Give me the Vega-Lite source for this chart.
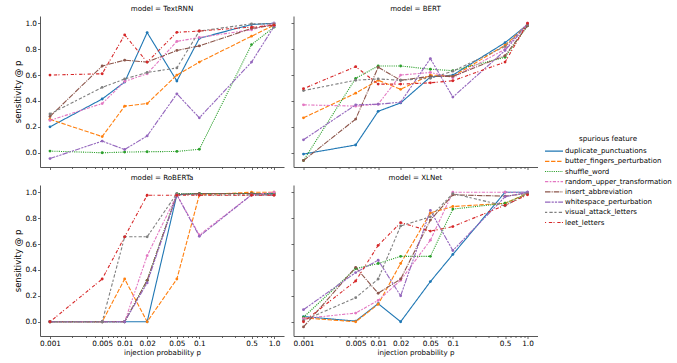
{
"$schema": "https://vega.github.io/schema/vega-lite/v6.json",
"padding": {"left": 13, "top": 5, "right": 0, "bottom": 2},
"config": {
  "font": "DejaVu Sans",
  "view": {"stroke": null},
  "title": {"fontSize": 7.1, "fontWeight": "normal", "offset": 3.5, "color": "#000", "font": "DejaVu Sans"},
  "axis": {"grid": false, "labelFontSize": 7.3, "titleFontSize": 7.1, "titleFontWeight": "normal", "labelColor": "#000", "titleColor": "#000", "domainColor": "#444", "tickColor": "#444", "domainWidth": 0.9, "tickWidth": 0.8, "tickSize": 2.5, "labelPadding": 1, "titlePadding": 2, "labelOverlap": false, "labelFont": "DejaVu Sans", "titleFont": "DejaVu Sans"},
  "axisY": {"titleFontSize": 8.5, "labelOverlap": false, "tickCount": 6},
  "legend": {"titleFontSize": 7.1, "titleFontWeight": "normal", "labelFontSize": 7, "titleColor": "#000", "labelColor": "#000", "rowPadding": 1.2, "titleAnchor": "middle", "titlePadding": 3, "labelFont": "DejaVu Sans", "titleFont": "DejaVu Sans"}
},
"data": {"values": [
{"model":"TextRNN","feature":"duplicate_punctuations","p":0.001,"s":0.2},{"model":"TextRNN","feature":"duplicate_punctuations","p":0.005,"s":0.415},{"model":"TextRNN","feature":"duplicate_punctuations","p":0.01,"s":0.546},{"model":"TextRNN","feature":"duplicate_punctuations","p":0.02,"s":0.928},{"model":"TextRNN","feature":"duplicate_punctuations","p":0.05,"s":0.554},{"model":"TextRNN","feature":"duplicate_punctuations","p":0.1,"s":0.884},{"model":"TextRNN","feature":"duplicate_punctuations","p":0.5,"s":0.99},{"model":"TextRNN","feature":"duplicate_punctuations","p":1.0,"s":1.0},
{"model":"TextRNN","feature":"butter_fingers_perturbation","p":0.001,"s":0.258},{"model":"TextRNN","feature":"butter_fingers_perturbation","p":0.005,"s":0.125},{"model":"TextRNN","feature":"butter_fingers_perturbation","p":0.01,"s":0.36},{"model":"TextRNN","feature":"butter_fingers_perturbation","p":0.02,"s":0.38},{"model":"TextRNN","feature":"butter_fingers_perturbation","p":0.05,"s":0.6},{"model":"TextRNN","feature":"butter_fingers_perturbation","p":0.1,"s":0.7},{"model":"TextRNN","feature":"butter_fingers_perturbation","p":0.5,"s":0.9},{"model":"TextRNN","feature":"butter_fingers_perturbation","p":1.0,"s":0.985},
{"model":"TextRNN","feature":"shuffle_word","p":0.001,"s":0.013},{"model":"TextRNN","feature":"shuffle_word","p":0.005,"s":0.0},{"model":"TextRNN","feature":"shuffle_word","p":0.01,"s":0.005},{"model":"TextRNN","feature":"shuffle_word","p":0.02,"s":0.008},{"model":"TextRNN","feature":"shuffle_word","p":0.05,"s":0.01},{"model":"TextRNN","feature":"shuffle_word","p":0.1,"s":0.027},{"model":"TextRNN","feature":"shuffle_word","p":0.5,"s":0.835},{"model":"TextRNN","feature":"shuffle_word","p":1.0,"s":0.97},
{"model":"TextRNN","feature":"random_upper_transformation","p":0.001,"s":0.25},{"model":"TextRNN","feature":"random_upper_transformation","p":0.005,"s":0.38},{"model":"TextRNN","feature":"random_upper_transformation","p":0.01,"s":0.55},{"model":"TextRNN","feature":"random_upper_transformation","p":0.02,"s":0.61},{"model":"TextRNN","feature":"random_upper_transformation","p":0.05,"s":0.86},{"model":"TextRNN","feature":"random_upper_transformation","p":0.1,"s":0.89},{"model":"TextRNN","feature":"random_upper_transformation","p":0.5,"s":0.95},{"model":"TextRNN","feature":"random_upper_transformation","p":1.0,"s":1.0},
{"model":"TextRNN","feature":"insert_abbreviation","p":0.001,"s":0.28},{"model":"TextRNN","feature":"insert_abbreviation","p":0.005,"s":0.67},{"model":"TextRNN","feature":"insert_abbreviation","p":0.01,"s":0.715},{"model":"TextRNN","feature":"insert_abbreviation","p":0.02,"s":0.7},{"model":"TextRNN","feature":"insert_abbreviation","p":0.05,"s":0.79},{"model":"TextRNN","feature":"insert_abbreviation","p":0.1,"s":0.825},{"model":"TextRNN","feature":"insert_abbreviation","p":0.5,"s":0.96},{"model":"TextRNN","feature":"insert_abbreviation","p":1.0,"s":0.985},
{"model":"TextRNN","feature":"whitespace_perturbation","p":0.001,"s":-0.045},{"model":"TextRNN","feature":"whitespace_perturbation","p":0.005,"s":0.09},{"model":"TextRNN","feature":"whitespace_perturbation","p":0.01,"s":0.025},{"model":"TextRNN","feature":"whitespace_perturbation","p":0.02,"s":0.13},{"model":"TextRNN","feature":"whitespace_perturbation","p":0.05,"s":0.455},{"model":"TextRNN","feature":"whitespace_perturbation","p":0.1,"s":0.27},{"model":"TextRNN","feature":"whitespace_perturbation","p":0.5,"s":0.7},{"model":"TextRNN","feature":"whitespace_perturbation","p":1.0,"s":0.975},
{"model":"TextRNN","feature":"visual_attack_letters","p":0.001,"s":0.3},{"model":"TextRNN","feature":"visual_attack_letters","p":0.005,"s":0.505},{"model":"TextRNN","feature":"visual_attack_letters","p":0.01,"s":0.57},{"model":"TextRNN","feature":"visual_attack_letters","p":0.02,"s":0.62},{"model":"TextRNN","feature":"visual_attack_letters","p":0.05,"s":0.655},{"model":"TextRNN","feature":"visual_attack_letters","p":0.1,"s":0.94},{"model":"TextRNN","feature":"visual_attack_letters","p":0.5,"s":0.995},{"model":"TextRNN","feature":"visual_attack_letters","p":1.0,"s":0.995},
{"model":"TextRNN","feature":"leet_letters","p":0.001,"s":0.6},{"model":"TextRNN","feature":"leet_letters","p":0.005,"s":0.61},{"model":"TextRNN","feature":"leet_letters","p":0.01,"s":0.91},{"model":"TextRNN","feature":"leet_letters","p":0.02,"s":0.7},{"model":"TextRNN","feature":"leet_letters","p":0.05,"s":0.93},{"model":"TextRNN","feature":"leet_letters","p":0.1,"s":0.94},{"model":"TextRNN","feature":"leet_letters","p":0.5,"s":0.97},{"model":"TextRNN","feature":"leet_letters","p":1.0,"s":0.985},

{"model":"BERT","feature":"duplicate_punctuations","p":0.001,"s":-0.01},{"model":"BERT","feature":"duplicate_punctuations","p":0.005,"s":0.06},{"model":"BERT","feature":"duplicate_punctuations","p":0.01,"s":0.32},{"model":"BERT","feature":"duplicate_punctuations","p":0.02,"s":0.385},{"model":"BERT","feature":"duplicate_punctuations","p":0.05,"s":0.585},{"model":"BERT","feature":"duplicate_punctuations","p":0.1,"s":0.6},{"model":"BERT","feature":"duplicate_punctuations","p":0.5,"s":0.85},{"model":"BERT","feature":"duplicate_punctuations","p":1.0,"s":0.99},
{"model":"BERT","feature":"butter_fingers_perturbation","p":0.001,"s":0.27},{"model":"BERT","feature":"butter_fingers_perturbation","p":0.005,"s":0.46},{"model":"BERT","feature":"butter_fingers_perturbation","p":0.01,"s":0.56},{"model":"BERT","feature":"butter_fingers_perturbation","p":0.02,"s":0.49},{"model":"BERT","feature":"butter_fingers_perturbation","p":0.05,"s":0.6},{"model":"BERT","feature":"butter_fingers_perturbation","p":0.1,"s":0.59},{"model":"BERT","feature":"butter_fingers_perturbation","p":0.5,"s":0.83},{"model":"BERT","feature":"butter_fingers_perturbation","p":1.0,"s":0.99},
{"model":"BERT","feature":"shuffle_word","p":0.001,"s":-0.06},{"model":"BERT","feature":"shuffle_word","p":0.005,"s":0.575},{"model":"BERT","feature":"shuffle_word","p":0.01,"s":0.67},{"model":"BERT","feature":"shuffle_word","p":0.02,"s":0.67},{"model":"BERT","feature":"shuffle_word","p":0.05,"s":0.645},{"model":"BERT","feature":"shuffle_word","p":0.1,"s":0.634},{"model":"BERT","feature":"shuffle_word","p":0.5,"s":0.737},{"model":"BERT","feature":"shuffle_word","p":1.0,"s":0.98},
{"model":"BERT","feature":"random_upper_transformation","p":0.001,"s":0.37},{"model":"BERT","feature":"random_upper_transformation","p":0.005,"s":0.36},{"model":"BERT","feature":"random_upper_transformation","p":0.01,"s":0.375},{"model":"BERT","feature":"random_upper_transformation","p":0.02,"s":0.6},{"model":"BERT","feature":"random_upper_transformation","p":0.05,"s":0.62},{"model":"BERT","feature":"random_upper_transformation","p":0.1,"s":0.58},{"model":"BERT","feature":"random_upper_transformation","p":0.5,"s":0.8},{"model":"BERT","feature":"random_upper_transformation","p":1.0,"s":1.0},
{"model":"BERT","feature":"insert_abbreviation","p":0.001,"s":-0.06},{"model":"BERT","feature":"insert_abbreviation","p":0.005,"s":0.26},{"model":"BERT","feature":"insert_abbreviation","p":0.01,"s":0.66},{"model":"BERT","feature":"insert_abbreviation","p":0.02,"s":0.56},{"model":"BERT","feature":"insert_abbreviation","p":0.05,"s":0.59},{"model":"BERT","feature":"insert_abbreviation","p":0.1,"s":0.59},{"model":"BERT","feature":"insert_abbreviation","p":0.5,"s":0.75},{"model":"BERT","feature":"insert_abbreviation","p":1.0,"s":0.98},
{"model":"BERT","feature":"whitespace_perturbation","p":0.001,"s":0.1},{"model":"BERT","feature":"whitespace_perturbation","p":0.005,"s":0.37},{"model":"BERT","feature":"whitespace_perturbation","p":0.01,"s":0.375},{"model":"BERT","feature":"whitespace_perturbation","p":0.02,"s":0.39},{"model":"BERT","feature":"whitespace_perturbation","p":0.05,"s":0.727},{"model":"BERT","feature":"whitespace_perturbation","p":0.1,"s":0.43},{"model":"BERT","feature":"whitespace_perturbation","p":0.5,"s":0.79},{"model":"BERT","feature":"whitespace_perturbation","p":1.0,"s":0.99},
{"model":"BERT","feature":"visual_attack_letters","p":0.001,"s":0.48},{"model":"BERT","feature":"visual_attack_letters","p":0.005,"s":0.56},{"model":"BERT","feature":"visual_attack_letters","p":0.01,"s":0.57},{"model":"BERT","feature":"visual_attack_letters","p":0.02,"s":0.56},{"model":"BERT","feature":"visual_attack_letters","p":0.05,"s":0.575},{"model":"BERT","feature":"visual_attack_letters","p":0.1,"s":0.63},{"model":"BERT","feature":"visual_attack_letters","p":0.5,"s":0.82},{"model":"BERT","feature":"visual_attack_letters","p":1.0,"s":0.99},
{"model":"BERT","feature":"leet_letters","p":0.001,"s":0.495},{"model":"BERT","feature":"leet_letters","p":0.005,"s":0.665},{"model":"BERT","feature":"leet_letters","p":0.01,"s":0.53},{"model":"BERT","feature":"leet_letters","p":0.02,"s":0.53},{"model":"BERT","feature":"leet_letters","p":0.05,"s":0.54},{"model":"BERT","feature":"leet_letters","p":0.1,"s":0.556},{"model":"BERT","feature":"leet_letters","p":0.5,"s":0.7},{"model":"BERT","feature":"leet_letters","p":1.0,"s":1.0},

{"model":"RoBERTa","feature":"duplicate_punctuations","p":0.001,"s":0},{"model":"RoBERTa","feature":"duplicate_punctuations","p":0.005,"s":0},{"model":"RoBERTa","feature":"duplicate_punctuations","p":0.01,"s":0},{"model":"RoBERTa","feature":"duplicate_punctuations","p":0.02,"s":0},{"model":"RoBERTa","feature":"duplicate_punctuations","p":0.05,"s":0.98},{"model":"RoBERTa","feature":"duplicate_punctuations","p":0.1,"s":0.99},{"model":"RoBERTa","feature":"duplicate_punctuations","p":0.5,"s":0.99},{"model":"RoBERTa","feature":"duplicate_punctuations","p":1.0,"s":0.99},
{"model":"RoBERTa","feature":"butter_fingers_perturbation","p":0.001,"s":0},{"model":"RoBERTa","feature":"butter_fingers_perturbation","p":0.005,"s":0},{"model":"RoBERTa","feature":"butter_fingers_perturbation","p":0.01,"s":0.33},{"model":"RoBERTa","feature":"butter_fingers_perturbation","p":0.02,"s":0},{"model":"RoBERTa","feature":"butter_fingers_perturbation","p":0.05,"s":0.33},{"model":"RoBERTa","feature":"butter_fingers_perturbation","p":0.1,"s":0.98},{"model":"RoBERTa","feature":"butter_fingers_perturbation","p":0.5,"s":1.0},{"model":"RoBERTa","feature":"butter_fingers_perturbation","p":1.0,"s":1.0},
{"model":"RoBERTa","feature":"shuffle_word","p":0.001,"s":0},{"model":"RoBERTa","feature":"shuffle_word","p":0.005,"s":0},{"model":"RoBERTa","feature":"shuffle_word","p":0.01,"s":0},{"model":"RoBERTa","feature":"shuffle_word","p":0.02,"s":0.32},{"model":"RoBERTa","feature":"shuffle_word","p":0.05,"s":0.99},{"model":"RoBERTa","feature":"shuffle_word","p":0.1,"s":0.99},{"model":"RoBERTa","feature":"shuffle_word","p":0.5,"s":0.99},{"model":"RoBERTa","feature":"shuffle_word","p":1.0,"s":0.99},
{"model":"RoBERTa","feature":"random_upper_transformation","p":0.001,"s":0},{"model":"RoBERTa","feature":"random_upper_transformation","p":0.005,"s":0},{"model":"RoBERTa","feature":"random_upper_transformation","p":0.01,"s":0},{"model":"RoBERTa","feature":"random_upper_transformation","p":0.02,"s":0.51},{"model":"RoBERTa","feature":"random_upper_transformation","p":0.05,"s":0.98},{"model":"RoBERTa","feature":"random_upper_transformation","p":0.1,"s":0.67},{"model":"RoBERTa","feature":"random_upper_transformation","p":0.5,"s":0.98},{"model":"RoBERTa","feature":"random_upper_transformation","p":1.0,"s":1.0},
{"model":"RoBERTa","feature":"insert_abbreviation","p":0.001,"s":0},{"model":"RoBERTa","feature":"insert_abbreviation","p":0.005,"s":0},{"model":"RoBERTa","feature":"insert_abbreviation","p":0.01,"s":0},{"model":"RoBERTa","feature":"insert_abbreviation","p":0.02,"s":0.32},{"model":"RoBERTa","feature":"insert_abbreviation","p":0.05,"s":0.98},{"model":"RoBERTa","feature":"insert_abbreviation","p":0.1,"s":0.99},{"model":"RoBERTa","feature":"insert_abbreviation","p":0.5,"s":0.99},{"model":"RoBERTa","feature":"insert_abbreviation","p":1.0,"s":0.98},
{"model":"RoBERTa","feature":"whitespace_perturbation","p":0.001,"s":0},{"model":"RoBERTa","feature":"whitespace_perturbation","p":0.005,"s":0},{"model":"RoBERTa","feature":"whitespace_perturbation","p":0.01,"s":0},{"model":"RoBERTa","feature":"whitespace_perturbation","p":0.02,"s":0.3},{"model":"RoBERTa","feature":"whitespace_perturbation","p":0.05,"s":0.98},{"model":"RoBERTa","feature":"whitespace_perturbation","p":0.1,"s":0.66},{"model":"RoBERTa","feature":"whitespace_perturbation","p":0.5,"s":0.98},{"model":"RoBERTa","feature":"whitespace_perturbation","p":1.0,"s":0.98},
{"model":"RoBERTa","feature":"visual_attack_letters","p":0.001,"s":0},{"model":"RoBERTa","feature":"visual_attack_letters","p":0.005,"s":0},{"model":"RoBERTa","feature":"visual_attack_letters","p":0.01,"s":0.656},{"model":"RoBERTa","feature":"visual_attack_letters","p":0.02,"s":0.656},{"model":"RoBERTa","feature":"visual_attack_letters","p":0.05,"s":0.99},{"model":"RoBERTa","feature":"visual_attack_letters","p":0.1,"s":0.98},{"model":"RoBERTa","feature":"visual_attack_letters","p":0.5,"s":0.98},{"model":"RoBERTa","feature":"visual_attack_letters","p":1.0,"s":0.98},
{"model":"RoBERTa","feature":"leet_letters","p":0.001,"s":0},{"model":"RoBERTa","feature":"leet_letters","p":0.005,"s":0.33},{"model":"RoBERTa","feature":"leet_letters","p":0.01,"s":0.656},{"model":"RoBERTa","feature":"leet_letters","p":0.02,"s":0.977},{"model":"RoBERTa","feature":"leet_letters","p":0.05,"s":0.977},{"model":"RoBERTa","feature":"leet_letters","p":0.1,"s":0.977},{"model":"RoBERTa","feature":"leet_letters","p":0.5,"s":0.977},{"model":"RoBERTa","feature":"leet_letters","p":1.0,"s":0.977},

{"model":"XLNet","feature":"duplicate_punctuations","p":0.001,"s":0.04},{"model":"XLNet","feature":"duplicate_punctuations","p":0.005,"s":0.005},{"model":"XLNet","feature":"duplicate_punctuations","p":0.01,"s":0.14},{"model":"XLNet","feature":"duplicate_punctuations","p":0.02,"s":0.0},{"model":"XLNet","feature":"duplicate_punctuations","p":0.05,"s":0.31},{"model":"XLNet","feature":"duplicate_punctuations","p":0.1,"s":0.52},{"model":"XLNet","feature":"duplicate_punctuations","p":0.5,"s":1.0},{"model":"XLNet","feature":"duplicate_punctuations","p":1.0,"s":1.0},
{"model":"XLNet","feature":"butter_fingers_perturbation","p":0.001,"s":0.03},{"model":"XLNet","feature":"butter_fingers_perturbation","p":0.005,"s":0.0},{"model":"XLNet","feature":"butter_fingers_perturbation","p":0.01,"s":0.135},{"model":"XLNet","feature":"butter_fingers_perturbation","p":0.02,"s":0.45},{"model":"XLNet","feature":"butter_fingers_perturbation","p":0.05,"s":0.84},{"model":"XLNet","feature":"butter_fingers_perturbation","p":0.1,"s":0.89},{"model":"XLNet","feature":"butter_fingers_perturbation","p":0.5,"s":0.915},{"model":"XLNet","feature":"butter_fingers_perturbation","p":1.0,"s":0.99},
{"model":"XLNet","feature":"shuffle_word","p":0.001,"s":0.035},{"model":"XLNet","feature":"shuffle_word","p":0.005,"s":0.41},{"model":"XLNet","feature":"shuffle_word","p":0.01,"s":0.45},{"model":"XLNet","feature":"shuffle_word","p":0.02,"s":0.505},{"model":"XLNet","feature":"shuffle_word","p":0.05,"s":0.505},{"model":"XLNet","feature":"shuffle_word","p":0.1,"s":0.87},{"model":"XLNet","feature":"shuffle_word","p":0.5,"s":0.915},{"model":"XLNet","feature":"shuffle_word","p":1.0,"s":0.99},
{"model":"XLNet","feature":"random_upper_transformation","p":0.001,"s":0.025},{"model":"XLNet","feature":"random_upper_transformation","p":0.005,"s":0.067},{"model":"XLNet","feature":"random_upper_transformation","p":0.01,"s":0.165},{"model":"XLNet","feature":"random_upper_transformation","p":0.02,"s":0.32},{"model":"XLNet","feature":"random_upper_transformation","p":0.05,"s":0.63},{"model":"XLNet","feature":"random_upper_transformation","p":0.1,"s":1.0},{"model":"XLNet","feature":"random_upper_transformation","p":0.5,"s":1.0},{"model":"XLNet","feature":"random_upper_transformation","p":1.0,"s":1.0},
{"model":"XLNet","feature":"insert_abbreviation","p":0.001,"s":-0.04},{"model":"XLNet","feature":"insert_abbreviation","p":0.005,"s":0.42},{"model":"XLNet","feature":"insert_abbreviation","p":0.01,"s":0.22},{"model":"XLNet","feature":"insert_abbreviation","p":0.02,"s":0.33},{"model":"XLNet","feature":"insert_abbreviation","p":0.05,"s":0.785},{"model":"XLNet","feature":"insert_abbreviation","p":0.1,"s":0.98},{"model":"XLNet","feature":"insert_abbreviation","p":0.5,"s":0.97},{"model":"XLNet","feature":"insert_abbreviation","p":1.0,"s":0.99},
{"model":"XLNet","feature":"whitespace_perturbation","p":0.001,"s":0.093},{"model":"XLNet","feature":"whitespace_perturbation","p":0.005,"s":0.38},{"model":"XLNet","feature":"whitespace_perturbation","p":0.01,"s":0.475},{"model":"XLNet","feature":"whitespace_perturbation","p":0.02,"s":0.2},{"model":"XLNet","feature":"whitespace_perturbation","p":0.05,"s":0.86},{"model":"XLNet","feature":"whitespace_perturbation","p":0.1,"s":0.55},{"model":"XLNet","feature":"whitespace_perturbation","p":0.5,"s":0.965},{"model":"XLNet","feature":"whitespace_perturbation","p":1.0,"s":1.0},
{"model":"XLNet","feature":"visual_attack_letters","p":0.001,"s":0.01},{"model":"XLNet","feature":"visual_attack_letters","p":0.005,"s":0.186},{"model":"XLNet","feature":"visual_attack_letters","p":0.01,"s":0.33},{"model":"XLNet","feature":"visual_attack_letters","p":0.02,"s":0.74},{"model":"XLNet","feature":"visual_attack_letters","p":0.05,"s":0.81},{"model":"XLNet","feature":"visual_attack_letters","p":0.1,"s":0.99},{"model":"XLNet","feature":"visual_attack_letters","p":0.5,"s":0.895},{"model":"XLNet","feature":"visual_attack_letters","p":1.0,"s":0.99},
{"model":"XLNet","feature":"leet_letters","p":0.001,"s":0.0},{"model":"XLNet","feature":"leet_letters","p":0.005,"s":0.315},{"model":"XLNet","feature":"leet_letters","p":0.01,"s":0.59},{"model":"XLNet","feature":"leet_letters","p":0.02,"s":0.765},{"model":"XLNet","feature":"leet_letters","p":0.05,"s":0.7},{"model":"XLNet","feature":"leet_letters","p":0.1,"s":0.735},{"model":"XLNet","feature":"leet_letters","p":0.5,"s":0.9},{"model":"XLNet","feature":"leet_letters","p":1.0,"s":0.98}
]},
"resolve": {"scale": {"color": "shared", "strokeDash": "shared"}},
"vconcat": [
 {"hconcat": [
  {"title": "model = TextRNN", "width": 244, "height": 151,
   "transform": [{"filter": "datum.model === 'TextRNN'"}],
   "layer": [
    {"mark": {"type": "line", "strokeWidth": 1.1},
     "encoding": {
      "x": {"field": "p", "type": "quantitative", "scale": {"type": "log", "domain": [0.000735, 1.36], "nice": false}, "axis": {"orient": "bottom", "values": [0.001,0.005,0.01,0.02,0.05,0.1,0.5,1], "labels": false, "title": null}},
      "y": {"field": "s", "type": "quantitative", "scale": {"domain": [-0.11, 1.056], "nice": false, "zero": false}, "axis": {"values": [0,0.2,0.4,0.6,0.8,1.0], "labelExpr": "format(datum.value, '.1f')", "labelOverlap": false, "title": "sensitivity @ p"}},
      "color": {"field": "feature", "type": "nominal", "title": "spurious feature", "scale": {"domain": ["duplicate_punctuations","butter_fingers_perturbation","shuffle_word","random_upper_transformation","insert_abbreviation","whitespace_perturbation","visual_attack_letters","leet_letters"], "range": ["#1f77b4","#ff7f0e","#2ca02c","#e377c2","#8c564b","#9467bd","#7f7f7f","#d62728"]}, "legend": {"orient": "none", "legendX": 504, "legendY": 119, "symbolType": "M-1.8,0H1.8", "symbolSize": 100, "symbolStrokeWidth": 1.2, "symbolOffset": 4, "labelOffset": 5}},
      "strokeDash": {"field": "feature", "type": "nominal", "title": "spurious feature", "scale": {"domain": ["duplicate_punctuations","butter_fingers_perturbation","shuffle_word","random_upper_transformation","insert_abbreviation","whitespace_perturbation","visual_attack_letters","leet_letters"], "range": [[1,0],[4.4,1.65],[1.1,1.1],[3.3,1.4,1.65,1.4],[5.5,1.1,1.1,1.1],[5.5,1.1,2.2,1.1,2.2,1.1],[2.2,2.2,3.3,1.65],[1.1,2.75,3.3,1.3]]}}
     }},
    {"mark": {"type": "point", "filled": true, "size": 8, "opacity": 1, "shape": "circle"},
     "encoding": {
      "x": {"field": "p", "type": "quantitative", "axis": {"orient": "bottom", "values": [0.002,0.003,0.004,0.006,0.007,0.008,0.009,0.03,0.04,0.06,0.07,0.08,0.09,0.2,0.3,0.4,0.6,0.7,0.8,0.9], "labels": false, "domain": false, "tickSize": 1.5, "title": null}},
      "y": {"field": "s", "type": "quantitative", "axis": {"values": [0,0.2,0.4,0.6,0.8,1.0], "labelExpr": "format(datum.value, '.1f')", "labelOverlap": false, "title": "sensitivity @ p"}},
      "color": {"field": "feature", "type": "nominal", "title": "spurious feature"}
     }}
   ],
   "resolve": {"axis": {"x": "independent"}}
  },
  {"title": "model = BERT", "width": 244, "height": 151,
   "transform": [{"filter": "datum.model === 'BERT'"}],
   "layer": [
    {"mark": {"type": "line", "strokeWidth": 1.1},
     "encoding": {
      "x": {"field": "p", "type": "quantitative", "scale": {"type": "log", "domain": [0.000735, 1.36], "nice": false}, "axis": {"orient": "bottom", "values": [0.001,0.005,0.01,0.02,0.05,0.1,0.5,1], "labels": false, "title": null}},
      "y": {"field": "s", "type": "quantitative", "scale": {"domain": [-0.11, 1.056], "nice": false, "zero": false}, "axis": {"values": [0,0.2,0.4,0.6,0.8,1.0], "labels": false, "title": null}},
      "color": {"field": "feature", "type": "nominal", "title": "spurious feature"},
      "strokeDash": {"field": "feature", "type": "nominal", "title": "spurious feature"}
     }},
    {"mark": {"type": "point", "filled": true, "size": 8, "opacity": 1, "shape": "circle"},
     "encoding": {
      "x": {"field": "p", "type": "quantitative", "axis": {"orient": "bottom", "values": [0.002,0.003,0.004,0.006,0.007,0.008,0.009,0.03,0.04,0.06,0.07,0.08,0.09,0.2,0.3,0.4,0.6,0.7,0.8,0.9], "labels": false, "domain": false, "tickSize": 1.5, "title": null}},
      "y": {"field": "s", "type": "quantitative", "axis": {"values": [0,0.2,0.4,0.6,0.8,1.0], "labels": false, "title": null}},
      "color": {"field": "feature", "type": "nominal", "title": "spurious feature"}
     }}
   ],
   "resolve": {"axis": {"x": "independent"}}
  }
 ], "spacing": 6.5},
 {"hconcat": [
  {"title": "model = RoBERTa", "width": 244, "height": 151,
   "transform": [{"filter": "datum.model === 'RoBERTa'"}],
   "layer": [
    {"mark": {"type": "line", "strokeWidth": 1.1},
     "encoding": {
      "x": {"field": "p", "type": "quantitative", "scale": {"type": "log", "domain": [0.000735, 1.36], "nice": false}, "axis": {"orient": "bottom", "values": [0.001,0.005,0.01,0.02,0.05,0.1,0.5,1], "labelExpr": "datum.value == 1 ? '1.0' : toString(datum.value)", "labelFlush": false, "title": "injection probability p"}},
      "y": {"field": "s", "type": "quantitative", "scale": {"domain": [-0.11, 1.056], "nice": false, "zero": false}, "axis": {"values": [0,0.2,0.4,0.6,0.8,1.0], "labelExpr": "format(datum.value, '.1f')", "labelOverlap": false, "title": "sensitivity @ p"}},
      "color": {"field": "feature", "type": "nominal", "title": "spurious feature"},
      "strokeDash": {"field": "feature", "type": "nominal", "title": "spurious feature"}
     }},
    {"mark": {"type": "point", "filled": true, "size": 8, "opacity": 1, "shape": "circle"},
     "encoding": {
      "x": {"field": "p", "type": "quantitative", "axis": {"orient": "bottom", "values": [0.002,0.003,0.004,0.006,0.007,0.008,0.009,0.03,0.04,0.06,0.07,0.08,0.09,0.2,0.3,0.4,0.6,0.7,0.8,0.9], "labels": false, "domain": false, "tickSize": 1.5, "title": null}},
      "y": {"field": "s", "type": "quantitative", "axis": {"values": [0,0.2,0.4,0.6,0.8,1.0], "labelExpr": "format(datum.value, '.1f')", "labelOverlap": false, "title": "sensitivity @ p"}},
      "color": {"field": "feature", "type": "nominal", "title": "spurious feature"}
     }}
   ],
   "resolve": {"axis": {"x": "independent"}}
  },
  {"title": "model = XLNet", "width": 244, "height": 151,
   "transform": [{"filter": "datum.model === 'XLNet'"}],
   "layer": [
    {"mark": {"type": "line", "strokeWidth": 1.1},
     "encoding": {
      "x": {"field": "p", "type": "quantitative", "scale": {"type": "log", "domain": [0.000735, 1.36], "nice": false}, "axis": {"orient": "bottom", "values": [0.001,0.005,0.01,0.02,0.05,0.1,0.5,1], "labelExpr": "datum.value == 1 ? '1.0' : toString(datum.value)", "labelFlush": false, "title": "injection probability p"}},
      "y": {"field": "s", "type": "quantitative", "scale": {"domain": [-0.11, 1.056], "nice": false, "zero": false}, "axis": {"values": [0,0.2,0.4,0.6,0.8,1.0], "labels": false, "title": null}},
      "color": {"field": "feature", "type": "nominal", "title": "spurious feature"},
      "strokeDash": {"field": "feature", "type": "nominal", "title": "spurious feature"}
     }},
    {"mark": {"type": "point", "filled": true, "size": 8, "opacity": 1, "shape": "circle"},
     "encoding": {
      "x": {"field": "p", "type": "quantitative", "axis": {"orient": "bottom", "values": [0.002,0.003,0.004,0.006,0.007,0.008,0.009,0.03,0.04,0.06,0.07,0.08,0.09,0.2,0.3,0.4,0.6,0.7,0.8,0.9], "labels": false, "domain": false, "tickSize": 1.5, "title": null}},
      "y": {"field": "s", "type": "quantitative", "axis": {"values": [0,0.2,0.4,0.6,0.8,1.0], "labels": false, "title": null}},
      "color": {"field": "feature", "type": "nominal", "title": "spurious feature"}
     }}
   ],
   "resolve": {"axis": {"x": "independent"}}
  }
 ], "spacing": 6.5}
],
"spacing": 4
}
